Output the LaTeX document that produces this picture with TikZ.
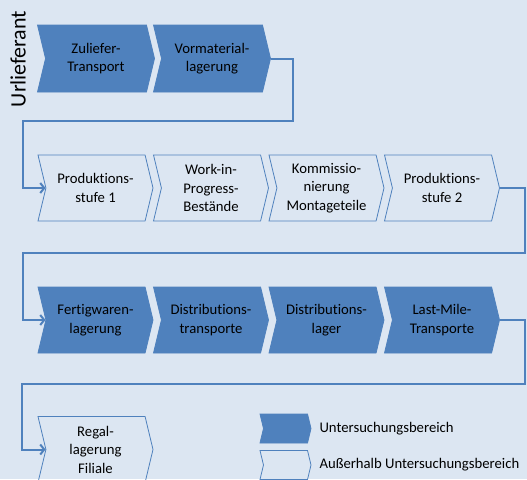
\documentclass[tikz,border=0pt]{standalone}
\usepackage{fontspec}
\setmainfont{Carlito}[Ligatures=NoCommon]
\usetikzlibrary{shapes.symbols,arrows.meta}
\definecolor{bgblue}{HTML}{DCE6F2}
\definecolor{stepblue}{HTML}{4F81BD}

\begin{document}
\begin{tikzpicture}[x=1pt,y=-1pt]
\tikzstyle{every node}+=[font=\fontsize{14.7}{18.5}\selectfont]
\tikzstyle{chev}=[signal, signal from=west, signal to=east, signal pointer angle=153, minimum width=115pt, minimum height=66pt, inner sep=0pt, align=center, draw=stepblue, line width=0.8pt]
\tikzstyle{chevin}=[chev, fill=stepblue]
\tikzstyle{legchev}=[chev, minimum width=51pt, minimum height=29pt]
\tikzstyle{conn}=[draw=stepblue, line width=2pt, -{Straight Barb[length=4pt,width=10pt]}]
\clip (0,0) rectangle (527,479);
\fill [bgblue] (0,0) rectangle (527,479);
\node (ul) at (18,59) [rotate=90, font=\fontsize{22}{24}\selectfont] {Urlieferant};
\node [chevin, minimum width=117pt, minimum height=67pt] (zt) at (96,58.5) {Zuliefer-\\Transport};
\node [chevin, minimum width=117pt, minimum height=67pt] (vm) at (212,58.5) {Vormaterial-\\lagerung};
\node [chev] (p1) at (95.5,188) {Produktions-\\stufe 1};
\node [chev] (wip) at (211,188) {Work-in-\\Progress-\\Bestände};
\node [chev] (km) at (326.5,188) {Kommissio-\\nierung\\Montageteile};
\node [chev] (p2) at (442,188) {Produktions-\\stufe 2};
\node [chevin] (fw) at (95.5,320) {Fertigwaren-\\lagerung};
\node [chevin] (dt) at (211,320) {Distributions-\\transporte};
\node [chevin] (dl) at (326.5,320) {Distributions-\\lager};
\node [chevin] (lm) at (442,320) {Last-Mile-\\Transporte};
\node [chev] (rf) at (95.5,449.5) {Regal-\\lagerung\\Filiale};
\node [legchev, fill=stepblue] (leg1) at (285.5,428.5) {};
\node [legchev] (leg2) at (285.5,465) {};
\node [anchor=west] (legt1) at (316,428.5) {Untersuchungsbereich};
\node [anchor=west] (legt2) at (316,465) {Außerhalb Untersuchungsbereich};
\coordinate (k1) at (293,121);
\coordinate (k2) at (23,121);
\coordinate (k3) at (525,253);
\coordinate (k4) at (23,253);
\coordinate (k5) at (525,384);
\coordinate (k6) at (22,384);
\draw [conn] (vm.east) -| (k1) -- (k2) |- (p1.west);
\draw [conn] (p2.east) -| (k3) -- (k4) |- (fw.west);
\draw [conn] (lm.east) -| (k5) -- (k6) |- (rf.west);
\end{tikzpicture}
\end{document}
